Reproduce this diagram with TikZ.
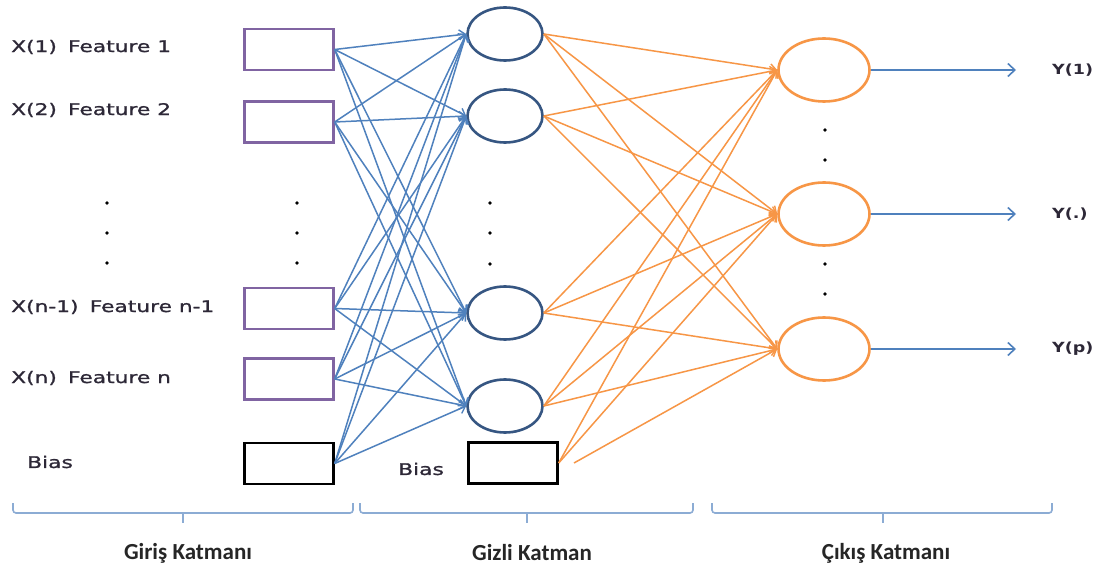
\documentclass[tikz,border=0pt]{standalone}
\usepackage{fontspec}
\usetikzlibrary{arrows.meta,shapes.geometric}
\newfontfamily\labfont[FakeStretch=1.36,FakeBold=1.2]{DejaVu Sans}
\newfontfamily\ylabfont[FakeStretch=1.25]{DejaVu Sans}
\newfontfamily\capfont{Carlito}
\definecolor{boxpurple}{RGB}{128,100,162}
\definecolor{hidblue}{RGB}{54,86,130}
\definecolor{lineblue}{RGB}{79,129,189}
\definecolor{nnorange}{RGB}{247,150,70}
\definecolor{bracecol}{RGB}{140,172,212}
\definecolor{txtcol}{RGB}{45,40,55}
\tikzset{
  inbox/.style={draw=boxpurple,line width=2.4pt,rectangle,minimum width=89pt,minimum height=41pt,inner sep=0pt},
  biasbox/.style={draw=black,line width=2.4pt,rectangle,minimum width=89pt,minimum height=41pt,inner sep=0pt},
  hidnode/.style={draw=hidblue,line width=2.6pt,ellipse,minimum width=75pt,minimum height=53pt,inner sep=0pt},
  outnode/.style={draw=nnorange,line width=2.6pt,ellipse,minimum width=91pt,minimum height=63pt,inner sep=0pt},
  bl/.style={draw=lineblue,line width=1.5pt,-{Straight Barb[length=6pt,width=10pt,line width=1.4pt]}},
  ol/.style={draw=nnorange,line width=1.5pt,-{Straight Barb[length=6pt,width=10pt,line width=1.4pt]}},
  yl/.style={draw=lineblue,line width=1.7pt,-{Straight Barb[length=7pt,width=13pt,line width=1.6pt]}},
  lab/.style={anchor=west,inner sep=0pt,text=txtcol,font=\labfont\fontsize{16}{19}\selectfont},
  ylab/.style={anchor=west,inner sep=0pt,text=txtcol,font=\ylabfont\bfseries\fontsize{14}{17}\selectfont},
  captext/.style={inner sep=0pt,text=black!85,font=\capfont\bfseries\fontsize{23}{27}\selectfont},
  dotn/.style={circle,fill=black,inner sep=0pt,minimum size=3.8pt},
  bracestyle/.style={draw=bracecol,line width=1.6pt,rounded corners=3pt}
}
\begin{document}
\begin{tikzpicture}[x=1pt,y=-1pt]
\path[use as bounding box,fill=white] (0,0) rectangle (1105,577);

% input layer
\node[inbox] (i1) at (289,49.5) {};
\node[inbox] (i2) at (289,122) {};
\node[inbox] (i3) at (289,308.5) {};
\node[inbox] (i4) at (289,379) {};
\node[biasbox] (ib) at (289,463.5) {};

\node[lab] (t1) at (11,47) {X(1)\hspace{0.7em}Feature 1};
\node[lab] (t2) at (11,110) {X(2)\hspace{0.7em}Feature 2};
\node[lab] (t3) at (11,307) {X(n-1)\hspace{0.7em}Feature n-1};
\node[lab] (t4) at (11,378) {X(n)\hspace{0.7em}Feature n};
\node[lab] (tb) at (27,462) {Bias};

\node[dotn] (ld1) at (107,203) {};
\node[dotn] (ld2) at (107,233) {};
\node[dotn] (ld3) at (107,263) {};
\node[dotn] (md1) at (297,203) {};
\node[dotn] (md2) at (297,233) {};
\node[dotn] (md3) at (297,263) {};

% hidden layer
\node[hidnode] (h1) at (505,34) {};
\node[hidnode] (h2) at (505,116) {};
\node[hidnode] (h3) at (505,313) {};
\node[hidnode] (h4) at (505,406) {};
\node[biasbox] (hb) at (513,463) {};
\node[lab] (hbt) at (398,469) {Bias};

\node[dotn] (hd1) at (490,203) {};
\node[dotn] (hd2) at (490,233) {};
\node[dotn] (hd3) at (490,264) {};

% output layer
\node[outnode] (o1) at (824,70) {};
\node[outnode] (o2) at (824,214) {};
\node[outnode] (o3) at (824,349) {};

\node[dotn] (od1) at (825,130) {};
\node[dotn] (od2) at (825,160) {};
\node[dotn] (od3) at (825,264) {};
\node[dotn] (od4) at (825,294) {};

\coordinate (y1e) at (1016,70);
\coordinate (y2e) at (1016,214);
\coordinate (y3e) at (1016,349);
\node[ylab] (y1) at (1052,70) {Y(1)};
\node[ylab] (y2) at (1052,214) {Y(.)};
\node[ylab] (y3) at (1052,349) {Y(p)};

% connections input -> hidden
\foreach \a in {i1,i2,i3,i4,ib}
  \foreach \b in {h1,h2,h3,h4}
    \draw[bl] (\a.east) -- (\b.west);

% hidden -> output
\foreach \a in {h1,h2,h3,h4}
  \foreach \b in {o1,o2,o3}
    \draw[ol] (\a.east) -- (\b.west);
\draw[ol] (hb.east) -- (o1.west);
\draw[ol] (hb.east) -- (o2.west);
\coordinate (hbs) at (574,463);
\draw[ol] (hbs) -- (o3.west);

% outputs
\draw[yl] (o1.east) -- (y1e);
\draw[yl] (o2.east) -- (y2e);
\draw[yl] (o3.east) -- (y3e);

% braces
\draw[bracestyle] (13,503) -- (13,513) -- (353,513) -- (353,503);
\draw[bracestyle] (360,503) -- (360,513) -- (693,513) -- (693,503);
\draw[bracestyle] (712,503) -- (712,513) -- (1052,513) -- (1052,503);
\coordinate (b1a) at (183,513); \coordinate (b1b) at (183,523);
\coordinate (b2a) at (527,513); \coordinate (b2b) at (527,523);
\coordinate (b3a) at (883,513); \coordinate (b3b) at (883,523);
\draw[draw=bracecol,line width=1.6pt] (b1a) -- (b1b);
\draw[draw=bracecol,line width=1.6pt] (b2a) -- (b2b);
\draw[draw=bracecol,line width=1.6pt] (b3a) -- (b3b);

\node[captext] (c1) at (188,553) {Giriş Katmanı};
\node[captext] (c2) at (532,553) {Gizli Katman};
\node[captext] (c3) at (886,553) {Çıkış Katmanı};
\end{tikzpicture}
\end{document}
